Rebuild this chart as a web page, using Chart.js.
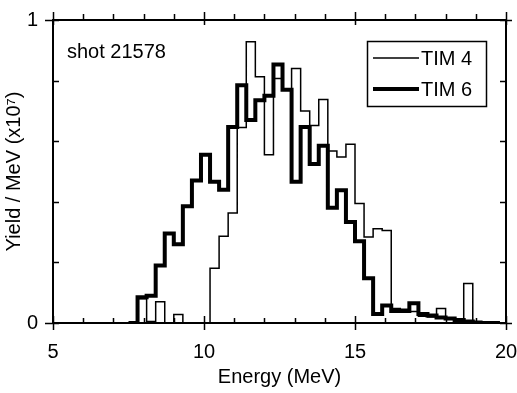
<!DOCTYPE html>
<html>
<head>
<meta charset="utf-8">
<script src="https://cdn.jsdelivr.net/npm/chart.js@4.4.1/dist/chart.umd.min.js"></script>
<style>
    html, body { margin: 0; padding: 0; background: #fff; }
    #wrap { width: 517px; height: 393px; }
</style>
</head>
<body>
<div id="wrap"><canvas id="yieldChart"></canvas></div>
<script>
// Histogram bin edges (MeV) - one more edge than values
var binEdges = [7.5, 7.8, 8.1, 8.4, 8.7, 9.0, 9.3, 9.6, 9.9, 10.2, 10.5, 10.8, 11.1, 11.4,
    11.7, 12.0, 12.3, 12.6, 12.9, 13.2, 13.5, 13.8, 14.1, 14.4, 14.7, 15.0, 15.3, 15.6,
    15.9, 16.2, 16.5, 16.8, 17.1, 17.4, 17.7, 18.0, 18.3, 18.6, 18.9, 19.2, 19.5, 19.8];

// Yield / MeV (x10^7) per bin
var tim4 = [0, 0.08, 0.005, 0.07, 0, 0.028, 0, 0, 0,
    0.181, 0.286, 0.363, 0.645, 0.928, 0.813, 0.555, 0.807, 0.77,
    0.84, 0.70, 0.652, 0.738, 0.568, 0.548, 0.59, 0.394, 0.284,
    0.311, 0.305, 0.048, 0.045, 0.038, 0.022, 0.02, 0.048, 0.015,
    0.012, 0.13, 0.006, 0.004, 0];
var tim6 = [0, 0.085, 0.09, 0.19, 0.295, 0.26, 0.385, 0.47, 0.555,
    0.466, 0.44, 0.647, 0.785, 0.67, 0.735, 0.75, 0.853, 0.77,
    0.466, 0.647, 0.525, 0.585, 0.38, 0.438, 0.333, 0.27, 0.148,
    0.03, 0.058, 0.04, 0.04, 0.065, 0.03, 0.025, 0.018, 0.015,
    0.01, 0.005, 0, 0, 0];

var seriesNames = ['TIM 4', 'TIM 6'];
var xMajorLabels = [5, 10, 15, 20];
var yLabels = [0, 1];
var shotLabel = 'shot 21578';

var FONT = '"Liberation Sans", Arial, Helvetica, sans-serif';

function stepPoints(values) {
    var pts = values.map(function (v, i) { return { x: binEdges[i], y: v }; });
    pts.push({ x: binEdges[values.length], y: values[values.length - 1] });
    return pts;
}

// frame, inward ticks, legend box and shot label
var framePlugin = {
    id: 'frameTicks',
    afterDraw: function (chart) {
        var ctx = chart.ctx;
        var a = chart.chartArea;
        var xs = chart.scales.x, ys = chart.scales.y;
        ctx.save();
        ctx.strokeStyle = '#000';
        ctx.lineWidth = 2;
        ctx.strokeRect(a.left, a.top, a.right - a.left, a.bottom - a.top);

        ctx.lineWidth = 1.5;
        ctx.beginPath();
        xs.ticks.forEach(function (t) {
            var px = Math.round(xs.getPixelForValue(t.value)) + 0.5;
            var major = xMajorLabels.indexOf(t.value) !== -1;
            if (major) {
                ctx.moveTo(px, a.bottom + 7); ctx.lineTo(px, a.bottom - 7);
                ctx.moveTo(px, a.top - 8); ctx.lineTo(px, a.top + 5);
            } else {
                ctx.moveTo(px, a.bottom); ctx.lineTo(px, a.bottom - 5);
                ctx.moveTo(px, a.top); ctx.lineTo(px, a.top - 6);
            }
        });
        ys.ticks.forEach(function (t) {
            var py = Math.round(ys.getPixelForValue(t.value)) + 0.5;
            var edge = Math.abs(t.value) < 1e-6 || Math.abs(t.value - 1) < 1e-6;
            if (edge) {
                ctx.moveTo(a.left - 8, py); ctx.lineTo(a.left + 6, py);
                ctx.moveTo(a.right - 6, py); ctx.lineTo(a.right + 6, py);
            } else {
                ctx.moveTo(a.left, py); ctx.lineTo(a.left + 6, py);
                ctx.moveTo(a.right, py); ctx.lineTo(a.right - 6, py);
            }
        });
        ctx.stroke();

        // legend
        ctx.fillStyle = '#fff';
        ctx.fillRect(367, 41, 120, 66);
        ctx.lineWidth = 1.5;
        ctx.strokeRect(367.5, 41.5, 119, 65);
        var rows = [{ y: 58, w: 1.5 }, { y: 89, w: 4 }];
        ctx.fillStyle = '#000';
        ctx.font = '20px ' + FONT;
        ctx.textBaseline = 'middle';
        ctx.textAlign = 'left';
        rows.forEach(function (r, i) {
            ctx.lineWidth = r.w;
            ctx.beginPath();
            ctx.moveTo(373, r.y); ctx.lineTo(419, r.y);
            ctx.stroke();
            ctx.fillText(seriesNames[i], 421, r.y + 1);
        });

        ctx.textBaseline = 'alphabetic';
        ctx.fillText(shotLabel, 67, 58);
        ctx.restore();
    }
};

new Chart(document.getElementById('yieldChart'), {
    type: 'line',
    data: {
        datasets: [{
            label: seriesNames[0],
            data: stepPoints(tim4),
            borderColor: '#000',
            borderWidth: 1.5,
            stepped: true,
            pointRadius: 0,
            borderJoinStyle: 'miter',
            fill: false
        }, {
            label: seriesNames[1],
            data: stepPoints(tim6),
            borderColor: '#000',
            borderWidth: 4,
            stepped: true,
            pointRadius: 0,
            borderJoinStyle: 'miter',
            fill: false
        }]
    },
    options: {
        responsive: true,
        maintainAspectRatio: false,
        animation: false,
        layout: { padding: { top: 20, right: 11, left: 0, bottom: 0 } },
        plugins: {
            legend: { display: false },
            tooltip: { enabled: false }
        },
        scales: {
            x: {
                type: 'linear',
                min: 5,
                max: 20,
                afterFit: function (scale) {
                    scale.height = 70;
                    scale.paddingLeft = 0;
                    scale.paddingRight = 0;
                },
                grid: { drawOnChartArea: false, drawTicks: false },
                border: { display: false },
                ticks: {
                    stepSize: 1,
                    autoSkip: false,
                    maxRotation: 0,
                    padding: 17,
                    color: '#000',
                    font: { size: 20, family: FONT },
                    callback: function (v) { return xMajorLabels.indexOf(v) !== -1 ? String(v) : ''; }
                },
                title: {
                    display: true,
                    text: 'Energy (MeV)',
                    color: '#000',
                    font: { size: 20, family: FONT },
                    padding: { top: 0, bottom: 4 }
                }
            },
            y: {
                min: 0,
                max: 1,
                afterFit: function (scale) {
                    scale.width = 53;
                    scale.paddingTop = 0;
                    scale.paddingBottom = 0;
                },
                grid: { drawOnChartArea: false, drawTicks: false },
                border: { display: false },
                ticks: {
                    stepSize: 0.2,
                    autoSkip: false,
                    padding: 15,
                    color: '#000',
                    font: { size: 20, family: FONT },
                    callback: function (v) {
                        var hit = yLabels.filter(function (l) { return Math.abs(l - v) < 1e-6; });
                        return hit.length ? String(hit[0]) : '';
                    }
                },
                title: {
                    display: true,
                    text: 'Yield / MeV (x10\u2077)',
                    color: '#000',
                    font: { size: 20, family: FONT },
                    padding: { top: 2, bottom: 0 }
                }
            }
        }
    },
    plugins: [framePlugin]
});
</script>
</body>
</html>
